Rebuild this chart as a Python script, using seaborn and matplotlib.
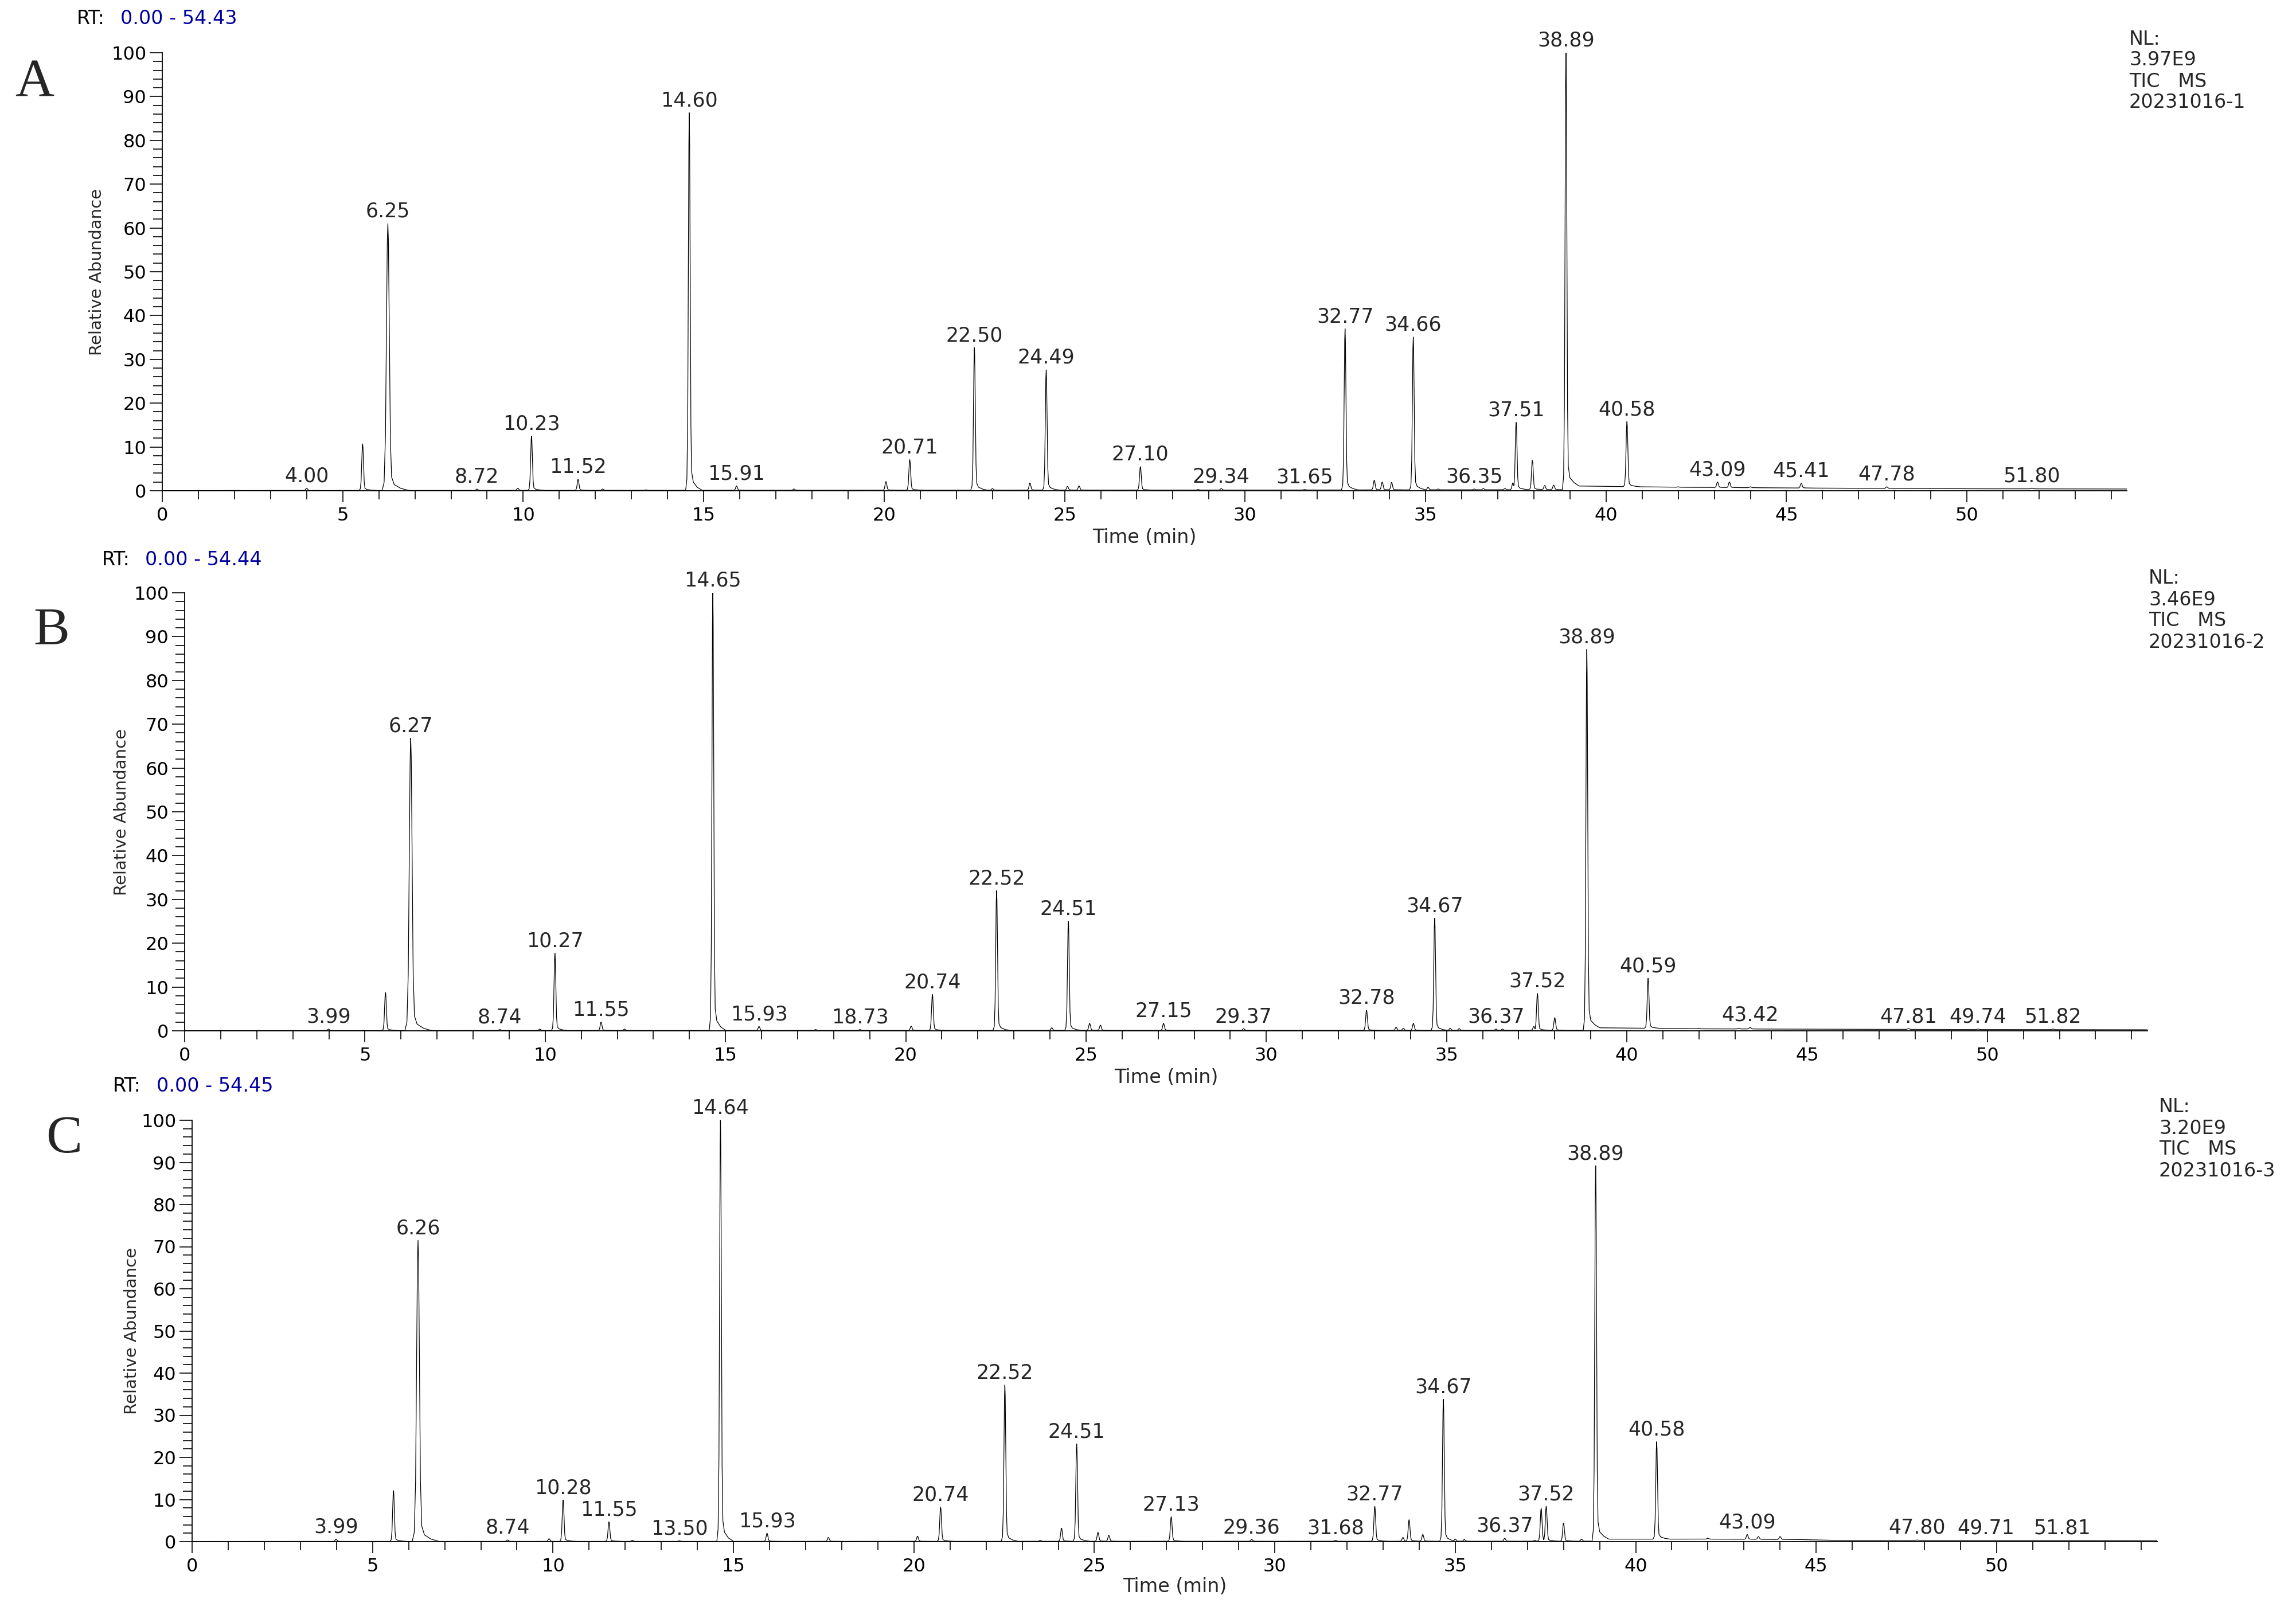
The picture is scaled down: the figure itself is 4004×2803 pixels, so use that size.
import numpy as np
import pandas as pd
import matplotlib
matplotlib.use("Agg")
import matplotlib.pyplot as plt
from matplotlib.ticker import MultipleLocator
import seaborn as sns

# ------------------------------------------------------------------ data
# Panel A (20231016-1)
A_lab_rt = [4.00, 6.25, 8.72, 10.23, 11.52, 14.60, 15.91, 20.71, 22.50, 24.49, 27.10, 29.34,
            31.65, 32.77, 34.66, 36.35, 37.51, 38.89, 40.58, 43.09, 45.41, 47.78, 51.80]
A_lab_ht = [0.6, 61.0, 0.4, 12.5, 2.6, 86.3, 1.1, 7.1, 32.7, 27.6, 5.5, 0.5,
            0.3, 37.0, 35.1, 0.4, 15.6, 100.0, 15.8, 2.0, 1.7, 0.9, 0.6]
A_min_rt = [5.55, 9.85, 12.2, 13.4, 17.5, 20.05, 23.0, 24.04, 25.08, 25.40, 28.7, 33.58, 33.80,
            34.06, 35.07, 35.35, 36.6, 37.2, 37.42, 37.96, 38.30, 38.55, 42.0, 43.42, 44.0]
A_min_ht = [10.7, 0.6, 0.4, 0.2, 0.4, 2.1, 0.5, 1.8, 1.0, 1.1, 0.3, 2.4, 2.0,
            1.9, 0.8, 0.4, 0.5, 0.5, 1.8, 6.9, 1.2, 1.3, 0.9, 2.0, 0.9]
A_bl_t = [0.0, 30.0, 38.85, 39.1, 40.0, 42.0, 46.0, 50.0, 54.43]
A_bl_y = [0.05, 0.15, 0.25, 1.1, 1.0, 0.8, 0.6, 0.45, 0.4]

# Panel B (20231016-2)
B_lab_rt = [3.99, 6.27, 8.74, 10.27, 11.55, 14.65, 15.93, 18.73, 20.74, 22.52, 24.51, 27.15,
            29.37, 32.78, 34.67, 36.37, 37.52, 38.89, 40.59, 43.42, 47.81, 49.74, 51.82]
B_lab_ht = [0.4, 66.8, 0.3, 17.7, 2.0, 100.0, 1.0, 0.3, 8.3, 32.0, 25.0, 1.7,
            0.5, 4.7, 25.7, 0.4, 8.5, 87.1, 12.0, 0.8, 0.5, 0.4, 0.4]
B_min_rt = [5.57, 9.85, 12.2, 17.5, 20.15, 24.05, 25.10, 25.40, 33.60, 33.80, 34.08, 35.10,
            35.35, 36.55, 37.42, 38.00, 42.0, 43.10]
B_min_ht = [8.7, 0.4, 0.4, 0.3, 1.1, 0.7, 1.7, 1.3, 0.8, 0.6, 1.7, 0.6,
            0.5, 0.4, 1.0, 3.0, 0.6, 0.6]
B_bl_t = [0.0, 38.85, 39.1, 42.0, 46.0, 54.44]
B_bl_y = [0.05, 0.1, 0.7, 0.45, 0.35, 0.25]

# Panel C (20231016-3)
C_lab_rt = [3.99, 6.26, 8.74, 10.28, 11.55, 13.50, 14.64, 15.93, 20.74, 22.52, 24.51, 27.13,
            29.36, 31.68, 32.77, 34.67, 36.37, 37.52, 38.89, 40.58, 43.09, 47.80, 49.71, 51.81]
C_lab_ht = [0.6, 71.5, 0.4, 9.9, 4.7, 0.2, 100.0, 2.0, 8.2, 37.2, 23.2, 5.9,
            0.5, 0.3, 8.4, 33.8, 0.8, 8.4, 89.2, 23.7, 1.7, 0.4, 0.3, 0.3]
C_min_rt = [5.58, 9.89, 12.2, 17.63, 20.10, 23.5, 24.09, 25.10, 25.40, 33.55, 33.72, 34.10,
            35.00, 35.25, 37.20, 37.38, 38.00, 38.50, 39.30, 42.0, 43.40, 44.0]
C_min_ht = [12.1, 0.7, 0.3, 1.0, 1.3, 0.3, 3.2, 2.2, 1.5, 1.0, 5.2, 1.7,
            0.6, 0.5, 0.3, 7.9, 4.4, 0.6, 0.6, 0.8, 1.2, 1.2]
C_bl_t = [0.0, 38.85, 39.1, 42.0, 44.5, 45.5, 54.45]
C_bl_y = [0.05, 0.1, 0.6, 0.6, 0.5, 0.3, 0.2]

BROAD_RT = [6.25, 6.27, 6.26]
PANEL_LETTERS = ["A", "B", "C"]
RT_END = [54.43, 54.44, 54.45]
NL_VALUES = ["3.97E9", "3.46E9", "3.20E9"]
SAMPLE_NAMES = ["20231016-1", "20231016-2", "20231016-3"]
X_MAJOR = [0, 5, 10, 15, 20, 25, 30, 35, 40, 45, 50]
Y_MAJOR = [0, 10, 20, 30, 40, 50, 60, 70, 80, 90, 100]

# ------------------------------------------------------------------ style
# generic chromatographic peak profile (relative time offset, fraction of apex)
SHAPE_DT = np.array([-0.10, -0.065, -0.042, -0.025, -0.010, 0.0, 0.010, 0.025, 0.042, 0.065, 0.11, 0.22, 0.36])
SHAPE_FR = np.array([0.0, 0.03, 0.2, 0.6, 0.93, 1.0, 0.93, 0.6, 0.2, 0.05, 0.022, 0.008, 0.0])

W, H = 4005, 2803
sns.set_style("ticks")
plt.rcParams["font.family"] = ["DejaVu Sans"]
plt.rcParams["axes.edgecolor"] = "black"
plt.rcParams["xtick.color"] = "black"
plt.rcParams["ytick.color"] = "black"

fig = plt.figure(figsize=(W / 100, H / 100), dpi=100)


def fx(px):
    return px / W


def fy(py):
    return 1 - py / H


# axes boxes in pixel coords: left, right, top(100), bottom(0)
boxes = [(283, 3709, 92, 856), (322, 3745, 1034, 1798), (335, 3762, 1954, 2689)]
panels = [
    (A_lab_rt, A_lab_ht, A_min_rt, A_min_ht, A_bl_t, A_bl_y),
    (B_lab_rt, B_lab_ht, B_min_rt, B_min_ht, B_bl_t, B_bl_y),
    (C_lab_rt, C_lab_ht, C_min_rt, C_min_ht, C_bl_t, C_bl_y),
]
rt_pos = [(134, 210, 33), (178, 253, 977), (197, 273, 1895)]
nl_pos = [(3713, 68), (3747, 1009), (3765, 1931)]
letter_pos = [(60, 168), (90, 1123), (112, 2010)]
ylab_x = [-0.0292, -0.0280, -0.0266]

BLUE = "#0000A0"

for i, (box, pdata) in enumerate(zip(boxes, panels)):
    l, r, t, b = box
    ax = fig.add_axes([fx(l), fy(b), fx(r) - fx(l), fy(t) - fy(b)])
    lab_rt, lab_ht, min_rt, min_ht, bl_t, bl_y = pdata
    tmax = RT_END[i]

    all_rt = np.array(list(lab_rt) + list(min_rt))
    all_ht = np.array(list(lab_ht) + list(min_ht))
    tt = np.union1d(np.arange(0.0, tmax, 0.003), np.concatenate([all_rt, [tmax]]))
    base = np.interp(tt, bl_t, bl_y)
    yy = base.copy()
    for rt, h in zip(all_rt, all_ht):
        amp = h - np.interp(rt, bl_t, bl_y)
        wf = 1.6 if rt in BROAD_RT else 1.0
        prof = base + amp * np.interp(tt - rt, SHAPE_DT * wf, SHAPE_FR, left=0.0, right=0.0)
        yy = np.maximum(yy, prof)

    df = pd.DataFrame({"Time (min)": tt, "Relative Abundance": yy})
    sns.lineplot(data=df, x="Time (min)", y="Relative Abundance", ax=ax,
                 color="black", linewidth=0.9, estimator=None, errorbar=None)

    ax.set_xlim(0, tmax)
    ax.set_ylim(0, 100)
    sns.despine(ax=ax)
    for sp in ("left", "bottom"):
        ax.spines[sp].set_linewidth(1.3)
        ax.spines[sp].set_color("black")

    ax.set_xticks(X_MAJOR)
    ax.set_xticklabels([str(v) for v in X_MAJOR])
    ax.set_yticks(Y_MAJOR)
    ax.set_yticklabels([str(v) for v in Y_MAJOR])
    ax.xaxis.set_minor_locator(MultipleLocator(1))
    ax.yaxis.set_minor_locator(MultipleLocator(2))
    ax.tick_params(axis="x", which="major", length=14.5, width=1.2, pad=6, labelsize=23, direction="out")
    ax.tick_params(axis="x", which="minor", length=10.5, width=1.2, direction="out")
    ax.tick_params(axis="y", which="major", length=16, width=1.2, pad=4, labelsize=23, direction="out")
    ax.tick_params(axis="y", which="minor", length=11.5, width=1.2, direction="out")

    ax.set_xlabel("Time (min)", fontsize=24)
    ax.set_ylabel("Relative Abundance", fontsize=21)
    ax.xaxis.set_label_coords(0.5, -0.085)
    ax.yaxis.set_label_coords(ylab_x[i], 0.5)

    for rt, h in zip(lab_rt, lab_ht):
        ax.annotate(f"{rt:.2f}", xy=(rt, h), xytext=(0, 3), textcoords="offset points",
                    ha="center", va="bottom", fontsize=25, annotation_clip=False)

    # header texts
    rx, bx, ry = rt_pos[i]
    fig.text(fx(rx), fy(ry), "RT:", fontsize=24, ha="left", va="center", color="black")
    fig.text(fx(bx), fy(ry), f"0.00 - {tmax:.2f}", fontsize=24, ha="left", va="center", color=BLUE)

    nx, ny = nl_pos[i]
    for k, line in enumerate(["NL:", NL_VALUES[i], "TIC   MS", SAMPLE_NAMES[i]]):
        fig.text(fx(nx), fy(ny + 37 * k), line, fontsize=24, ha="left", va="center")

    lx, ly = letter_pos[i]
    fig.text(fx(lx), fy(ly), PANEL_LETTERS[i], fontsize=68, ha="center", va="baseline",
             family=["Liberation Serif", "DejaVu Serif"])

fig.savefig("out.png", dpi=100, facecolor="white")
